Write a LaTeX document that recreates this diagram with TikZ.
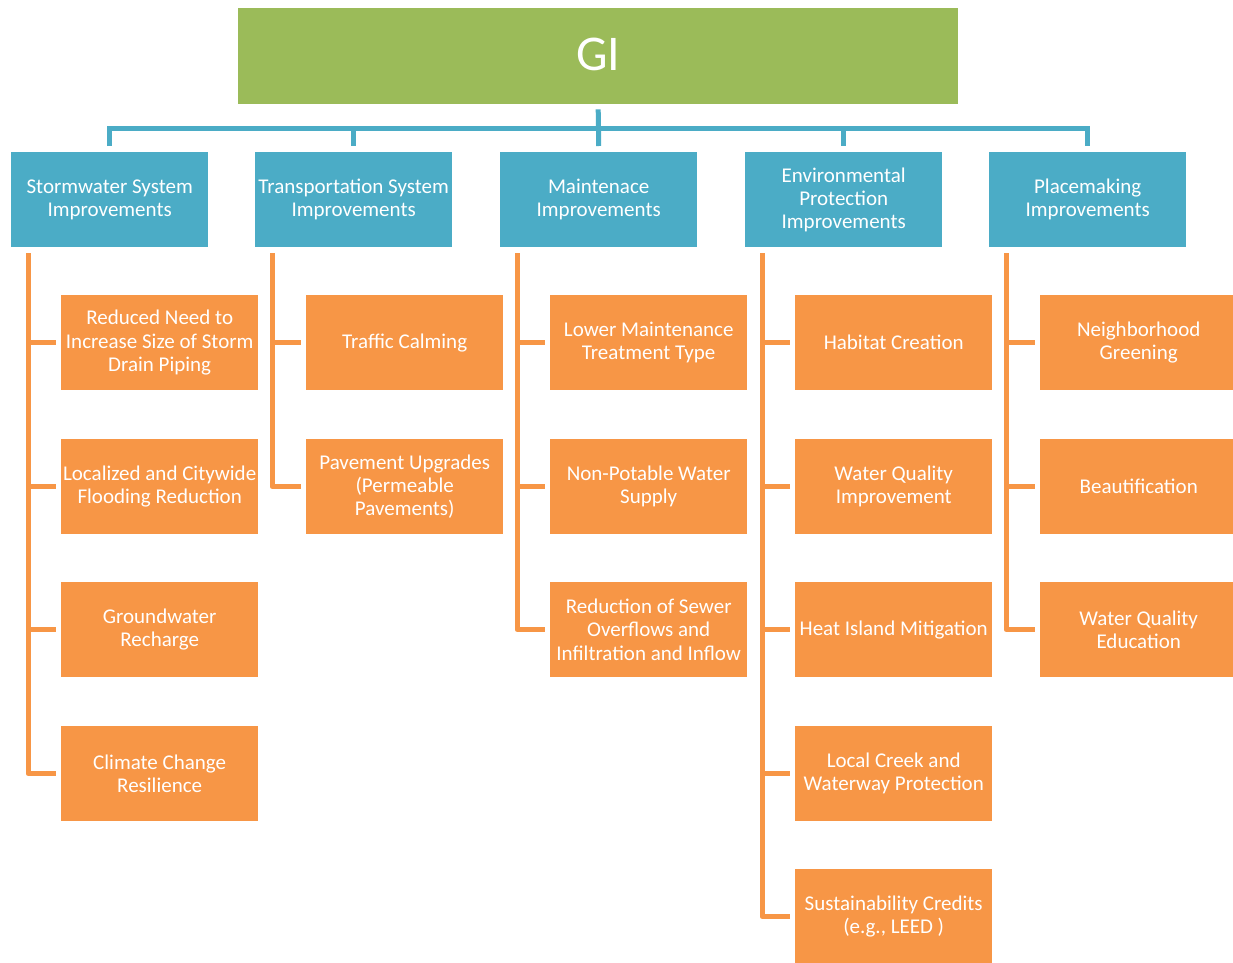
\documentclass[tikz,border=0pt]{standalone}
\usepackage{fontspec}
\setmainfont{Carlito}
\definecolor{gigreen}{HTML}{9BBB59}
\definecolor{catblue}{HTML}{4BACC6}
\definecolor{itemorange}{HTML}{F79646}
\begin{document}
\begin{tikzpicture}[x=1pt,y=-1pt,
  box/.style={anchor=north west,inner sep=0pt,align=center,text=white,
    font=\fontsize{21}{23.2}\selectfont},
  head/.style={box,fill=gigreen,minimum width=720pt,minimum height=96pt,
    font=\fontsize{50}{56}\selectfont},
  cat/.style={box,fill=catblue,minimum width=197pt,minimum height=95pt},
  item/.style={box,fill=itemorange,minimum width=197pt,minimum height=95pt},
  bus/.style={draw=catblue,line width=5pt},
  rail/.style={draw=itemorange,line width=5pt,line join=round}]
\useasboundingbox (0,0) rectangle (1233,962);

% top box
\node[head] (gi) at (238,8) {\raisebox{3pt}{GI}};

% category boxes
\node[cat] (c1) at (11,152)  {Stormwater System\\Improvements};
\node[cat] (c2) at (255,152) {Transportation System\\Improvements};
\node[cat] (c3) at (500,152) {Maintenace\\Improvements};
\node[cat] (c4) at (745,152) {Environmental\\Protection\\Improvements};
\node[cat] (c5) at (989,152) {Placemaking\\Improvements};

% stormwater items
\node[item] (i11) at (61,295) {Reduced Need to\\Increase Size of Storm\\Drain Piping};
\node[item] (i12) at (61,439) {Localized and Citywide\\Flooding Reduction};
\node[item] (i13) at (61,582) {Groundwater\\Recharge};
\node[item] (i14) at (61,726) {Climate Change\\Resilience};

% transportation items
\node[item] (i21) at (306,295) {Traffic Calming};
\node[item] (i22) at (306,439) {Pavement Upgrades\\(Permeable\\Pavements)};

% maintenance items
\node[item] (i31) at (550,295) {Lower Maintenance\\Treatment Type};
\node[item] (i32) at (550,439) {Non-Potable Water\\Supply};
\node[item] (i33) at (550,582) {Reduction of Sewer\\Overflows and\\Infiltration and Inflow};

% environmental items
\node[item] (i41) at (795,295) {Habitat Creation};
\node[item] (i42) at (795,439) {Water Quality\\Improvement};
\node[item] (i43) at (795,582) {Heat Island Mitigation};
\node[item] (i44) at (795,726) {Local Creek and\\Waterway Protection};
\node[item] (i45) at (795,869) {Sustainability Credits\\(e.g., LEED )};

% placemaking items
\node[item] (i51) at (1040,295) {Neighborhood\\Greening};
\node[item] (i52) at (1040,439) {Beautification};
\node[item] (i53) at (1040,582) {Water Quality\\Education};

% blue bus from the top box to the categories
\coordinate (bus) at (598,128);
\draw[bus] ([yshift=-5pt]gi.south) -- ([yshift=6pt]c3.north);
\draw[bus] ([yshift=6pt]c1.north) -- (c1.north |- bus) -- (c5.north |- bus) -- ([yshift=6pt]c5.north);
\draw[bus] (c2.north |- bus) -- ([yshift=6pt]c2.north);
\draw[bus] (c4.north |- bus) -- ([yshift=6pt]c4.north);

% orange rails from each category to its items
\coordinate (r1) at ([xshift=17pt,yshift=-6pt]c1.south west);
\coordinate (r2) at ([xshift=17pt,yshift=-6pt]c2.south west);
\coordinate (r3) at ([xshift=17pt,yshift=-6pt]c3.south west);
\coordinate (r4) at ([xshift=17pt,yshift=-6pt]c4.south west);
\coordinate (r5) at ([xshift=17pt,yshift=-6pt]c5.south west);

\draw[rail] (r1) |- ([xshift=-5pt]i14.west);
\foreach \n in {i11,i12,i13} \draw[rail] (r1 |- \n.west) -- ([xshift=-5pt]\n.west);
\draw[rail] (r2) |- ([xshift=-5pt]i22.west);
\draw[rail] (r2 |- i21.west) -- ([xshift=-5pt]i21.west);
\draw[rail] (r3) |- ([xshift=-5pt]i33.west);
\foreach \n in {i31,i32} \draw[rail] (r3 |- \n.west) -- ([xshift=-5pt]\n.west);
\draw[rail] (r4) |- ([xshift=-5pt]i45.west);
\foreach \n in {i41,i42,i43,i44} \draw[rail] (r4 |- \n.west) -- ([xshift=-5pt]\n.west);
\draw[rail] (r5) |- ([xshift=-5pt]i53.west);
\foreach \n in {i51,i52} \draw[rail] (r5 |- \n.west) -- ([xshift=-5pt]\n.west);
\end{tikzpicture}
\end{document}
